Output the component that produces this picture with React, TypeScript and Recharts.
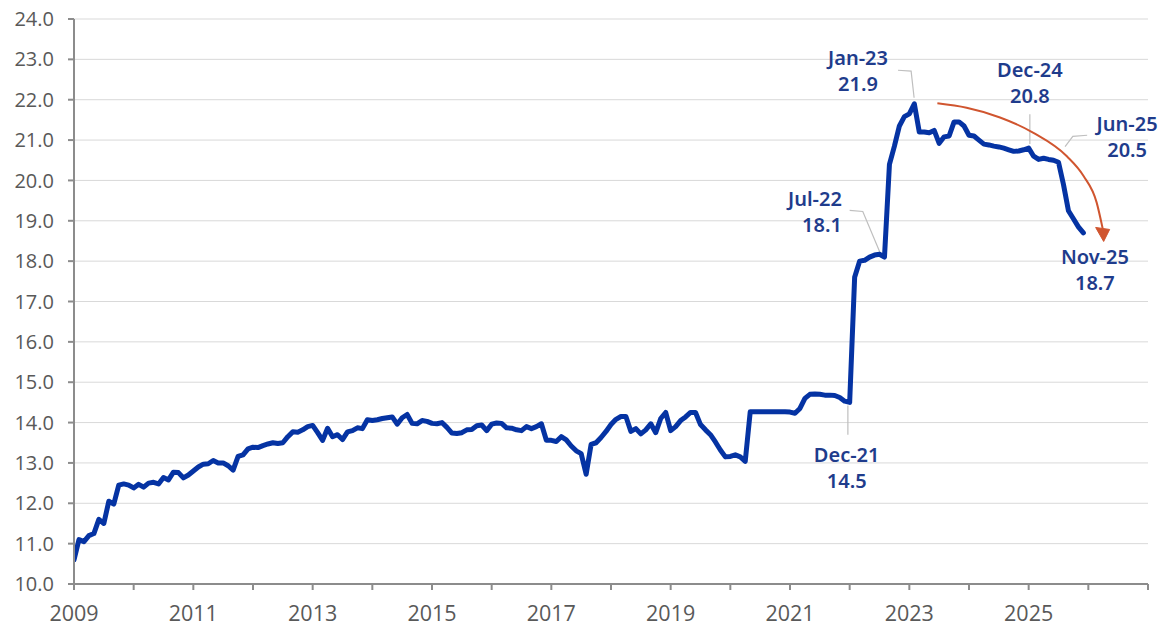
import React from 'react';
import { LineChart, Line, XAxis, YAxis, CartesianGrid, ReferenceDot } from 'recharts';

// Monthly values (end-of-month)
const v2008 = [10.6]; // Dec-08
const v2009 = [11.1, 11.05, 11.2, 11.25, 11.6, 11.5, 12.05, 11.98, 12.45, 12.48, 12.45, 12.38];
const v2010 = [12.47, 12.4, 12.5, 12.52, 12.48, 12.64, 12.58, 12.77, 12.76, 12.63, 12.7, 12.8];
const v2011 = [12.9, 12.97, 12.98, 13.06, 13.0, 13.0, 12.93, 12.82, 13.16, 13.2, 13.35, 13.39];
const v2012 = [13.38, 13.43, 13.47, 13.5, 13.48, 13.5, 13.65, 13.77, 13.76, 13.82, 13.9, 13.93];
const v2013 = [13.75, 13.56, 13.86, 13.65, 13.7, 13.58, 13.77, 13.8, 13.87, 13.85, 14.07, 14.05];
const v2014 = [14.07, 14.1, 14.12, 14.14, 13.96, 14.12, 14.2, 13.98, 13.97, 14.05, 14.03, 13.98];
const v2015 = [13.97, 14.0, 13.88, 13.74, 13.73, 13.75, 13.82, 13.83, 13.92, 13.94, 13.8, 13.96];
const v2016 = [13.99, 13.98, 13.87, 13.86, 13.82, 13.8, 13.9, 13.85, 13.9, 13.97, 13.56, 13.56];
const v2017 = [13.53, 13.65, 13.57, 13.42, 13.3, 13.23, 12.72, 13.46, 13.5, 13.63, 13.78, 13.95];
const v2018 = [14.08, 14.15, 14.15, 13.78, 13.85, 13.72, 13.82, 13.97, 13.75, 14.1, 14.25, 13.8];
const v2019 = [13.9, 14.05, 14.14, 14.25, 14.25, 13.95, 13.82, 13.7, 13.52, 13.32, 13.15, 13.16];
const v2020 = [13.2, 13.15, 13.04, 14.27, 14.27, 14.27, 14.27, 14.27, 14.27, 14.27, 14.27, 14.26];
const v2021 = [14.23, 14.35, 14.6, 14.7, 14.71, 14.7, 14.68, 14.68, 14.67, 14.62, 14.53, 14.5];
const v2022 = [17.6, 18.0, 18.02, 18.1, 18.15, 18.17, 18.1, 20.4, 20.85, 21.35, 21.58, 21.65];
const v2023 = [21.9, 21.2, 21.2, 21.18, 21.24, 20.92, 21.08, 21.1, 21.45, 21.45, 21.35, 21.12];
const v2024 = [21.1, 21.0, 20.9, 20.88, 20.85, 20.83, 20.8, 20.76, 20.72, 20.73, 20.76, 20.8];
const v2025 = [20.6, 20.52, 20.55, 20.52, 20.5, 20.45, 19.9, 19.25, 19.05, 18.85, 18.7];

const yearBlocks = [
  { year: 2008, firstMonth: 12, values: v2008 },
  { year: 2009, firstMonth: 1, values: v2009 },
  { year: 2010, firstMonth: 1, values: v2010 },
  { year: 2011, firstMonth: 1, values: v2011 },
  { year: 2012, firstMonth: 1, values: v2012 },
  { year: 2013, firstMonth: 1, values: v2013 },
  { year: 2014, firstMonth: 1, values: v2014 },
  { year: 2015, firstMonth: 1, values: v2015 },
  { year: 2016, firstMonth: 1, values: v2016 },
  { year: 2017, firstMonth: 1, values: v2017 },
  { year: 2018, firstMonth: 1, values: v2018 },
  { year: 2019, firstMonth: 1, values: v2019 },
  { year: 2020, firstMonth: 1, values: v2020 },
  { year: 2021, firstMonth: 1, values: v2021 },
  { year: 2022, firstMonth: 1, values: v2022 },
  { year: 2023, firstMonth: 1, values: v2023 },
  { year: 2024, firstMonth: 1, values: v2024 },
  { year: 2025, firstMonth: 1, values: v2025 },
];

const mainData = yearBlocks.flatMap((b) =>
  b.values.map((v, i) => ({ t: b.year + (b.firstMonth + i) / 12, v }))
);

const xTicks = [2009, 2010, 2011, 2012, 2013, 2014, 2015, 2016, 2017, 2018, 2019, 2020, 2021, 2022, 2023, 2024, 2025, 2026, 2027];
const xLabelYears = [2009, 2011, 2013, 2015, 2017, 2019, 2021, 2023, 2025];
const yTicks = [10, 11, 12, 13, 14, 15, 16, 17, 18, 19, 20, 21, 22, 23, 24];

// Annotations (label anchor in data coordinates)
const annotations = [
  { name: 'Jan-23', value: '21.9', t: 2022.14, v: 23.03, anchor: 'middle' },
  { name: 'Dec-24', value: '20.8', t: 2025.02, v: 22.73, anchor: 'middle' },
  { name: 'Jun-25', value: '20.5', t: 2026.65, v: 21.41, anchor: 'middle' },
  { name: 'Jul-22', value: '18.1', t: 2021.87, v: 19.55, anchor: 'end' },
  { name: 'Dec-21', value: '14.5', t: 2021.95, v: 13.2, anchor: 'middle' },
  { name: 'Nov-25', value: '18.7', t: 2026.11, v: 18.11, anchor: 'middle' },
];

const leaderJan23 = [{ t: 2022.81, v: 22.73 }, { t: 2023.03, v: 22.71 }, { t: 2023.08, v: 22.05 }];
const leaderDec24 = [{ t: 2025.02, v: 21.64 }, { t: 2025.02, v: 20.9 }];
const leaderJun25 = [{ t: 2025.98, v: 21.12 }, { t: 2025.74, v: 21.09 }, { t: 2025.61, v: 20.84 }];
const leaderJul22 = [{ t: 2022.0, v: 19.26 }, { t: 2022.22, v: 19.23 }, { t: 2022.51, v: 18.21 }];
const leaderDec21 = [{ t: 2021.97, v: 14.42 }, { t: 2021.97, v: 13.7 }];

const arcPoints = [
  { t: 2023.47, v: 21.91 },
  { t: 2023.96, v: 21.8 },
  { t: 2024.52, v: 21.56 },
  { t: 2025.08, v: 21.18 },
  { t: 2025.64, v: 20.6 },
  { t: 2025.92, v: 20.11 },
  { t: 2026.14, v: 19.45 },
  { t: 2026.24, v: 18.81 },
];

const LABEL_COLOR = '#1F3C8C';
const ARROW_COLOR = '#D0552F';
const LEADER_COLOR = '#BFBFBF';

const AnnotationText = (props: any) => {
  const { cx, cy, a } = props;
  if (cx == null || cy == null) return <g />;
  return (
    <text
      x={cx}
      y={cy}
      textAnchor={a.anchor}
      fill={LABEL_COLOR}
      fontFamily="'Noto Sans', 'Open Sans', sans-serif"
      fontWeight={600}
      fontSize={20}
    >
      <tspan x={cx} dy="0.35em">{a.name}</tspan>
      <tspan x={cx} dy={26}>{a.value}</tspan>
    </text>
  );
};

const ArrowDot = (props: any) => {
  const { cx, cy, index } = props;
  if (index !== arcPoints.length - 1 || cx == null) return <g key={`ad-${index}`} />;
  const d = `M ${cx - 7} ${cy - 1} L ${cx + 7} ${cy + 1} L ${cx + 1} ${cy + 13} Z`;
  return <path key={`ad-${index}`} d={d} fill={ARROW_COLOR} stroke={ARROW_COLOR} strokeWidth={1} />;
};

const xTickStyle = { fill: '#595959', fontSize: 21.5, fontFamily: "'Open Sans', 'Noto Sans', sans-serif" };
const yTickStyle = { fill: '#595959', fontSize: 20, fontFamily: "'Open Sans', 'Noto Sans', sans-serif" };

export default function App() {
  return (
    <div style={{ position: 'absolute', left: 0, top: 0, width: 1160, height: 626, background: '#fff' }}>
      <LineChart width={1160} height={626} margin={{ top: 19, right: 12, left: 0, bottom: 0 }}>
        <CartesianGrid horizontal vertical={false} stroke="#D9D9D9" strokeWidth={1} />
        <XAxis
          type="number"
          dataKey="t"
          domain={[2009, 2027]}
          ticks={xTicks}
          interval={0}
          allowDataOverflow
          height={42}
          tickSize={6}
          tickMargin={16}
          axisLine={{ stroke: '#8C8C8C', strokeWidth: 2 }}
          tickLine={{ stroke: '#8C8C8C', strokeWidth: 2 }}
          tick={xTickStyle}
          tickFormatter={(v: number) => (xLabelYears.includes(v) ? String(v) : '')}
        />
        <YAxis
          type="number"
          domain={[10, 24]}
          ticks={yTicks}
          interval={0}
          allowDataOverflow
          width={74}
          tickSize={6}
          tickMargin={14}
          axisLine={{ stroke: '#8C8C8C', strokeWidth: 2 }}
          tickLine={{ stroke: '#8C8C8C', strokeWidth: 2 }}
          tick={yTickStyle}
          tickFormatter={(v: number) => v.toFixed(1)}
        />
        {[leaderJan23, leaderDec24, leaderJun25, leaderJul22, leaderDec21].map((d, i) => (
          <Line
            key={`leader-${i}`}
            data={d}
            dataKey="v"
            type="linear"
            stroke={LEADER_COLOR}
            strokeWidth={1.2}
            dot={false}
            activeDot={false}
            isAnimationActive={false}
          />
        ))}
        <Line
          data={mainData}
          dataKey="v"
          type="linear"
          stroke="#0533A3"
          strokeWidth={5}
          strokeLinejoin="round"
          strokeLinecap="round"
          dot={false}
          activeDot={false}
          isAnimationActive={false}
        />
        <Line
          data={arcPoints}
          dataKey="v"
          type="monotone"
          stroke={ARROW_COLOR}
          strokeWidth={2}
          dot={ArrowDot}
          activeDot={false}
          isAnimationActive={false}
        />
        {annotations.map((a) => (
          <ReferenceDot
            key={a.name}
            x={a.t}
            y={a.v}
            r={0}
            ifOverflow="visible"
            shape={(p: any) => <AnnotationText {...p} a={a} />}
          />
        ))}
      </LineChart>
    </div>
  );
}
